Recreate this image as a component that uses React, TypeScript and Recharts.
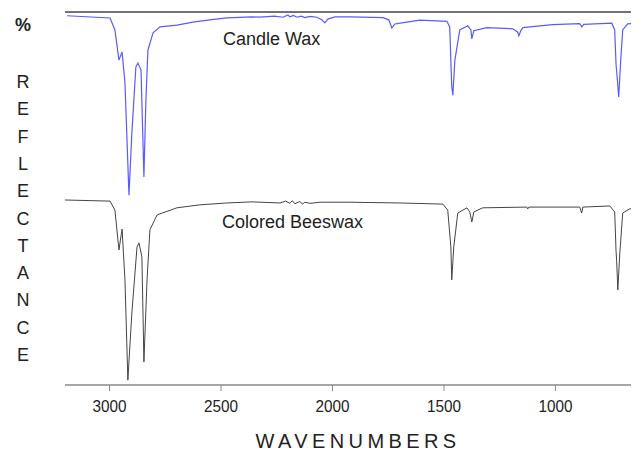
import { LineChart, Line, XAxis, YAxis, ReferenceLine } from "recharts";

// IR spectra: wavenumber (cm-1) and % reflectance (0-100 scale of the plot)
const candleWaxWavenumbers = [
  3191, 2998, 2976, 2958, 2944, 2931, 2913, 2900, 2882, 2873, 2859, 2846, 2837, 2828, 2805, 2774,
  2698, 2626, 2550, 2474, 2361, 2326, 2260, 2222, 2200, 2191, 2175, 2160, 2140, 2124, 2100, 2070,
  2048, 2034, 2021, 1989, 1922, 1774, 1747, 1734, 1720, 1689, 1608, 1487, 1474, 1468, 1465, 1460,
  1451, 1429, 1393, 1379, 1375, 1366, 1308, 1191, 1169, 1164, 1155, 1146, 1012, 891, 882, 873, 747,
  734, 728, 725, 716, 707, 698, 676, 635,
];
const candleWaxReflectance = [
  99.0, 98.4, 95.2, 87.1, 89.3, 81.0, 50.9, 67.6, 85.3, 86.3, 84.5, 55.8, 76.4, 89.8, 94.4, 96.0,
  96.5, 97.3, 97.9, 98.4, 98.7, 98.6, 98.9, 98.6, 99.2, 98.7, 99.1, 98.6, 98.9, 98.5, 98.8, 98.6,
  97.9, 97.1, 98.1, 98.7, 98.7, 98.5, 97.9, 95.7, 96.8, 97.1, 97.8, 97.5, 96.0, 85.0, 80.0, 77.7,
  87.1, 95.2, 96.3, 95.2, 92.8, 95.0, 95.8, 95.5, 94.6, 93.6, 95.0, 95.8, 96.6, 96.9, 96.0, 96.7, 97.0,
  95.2, 86.0, 84.0, 77.2, 87.1, 95.2, 96.8, 97.0,
];

const beeswaxWavenumbers = [
  3200, 2998, 2976, 2958, 2944, 2931, 2918, 2900, 2877, 2868, 2855, 2846, 2832, 2819, 2787, 2698,
  2595, 2474, 2361, 2236, 2210, 2191, 2180, 2169, 2146, 2135, 2124, 2100, 2057, 1922, 1698, 1505,
  1483, 1469, 1465, 1456, 1438, 1397, 1384, 1375, 1366, 1326, 1128, 1124, 1119, 891, 882, 877, 756,
  734, 728, 725, 720, 711, 698, 667, 631,
];
const beeswaxReflectance = [
  49.6, 49.3, 46.9, 36.2, 41.8, 28.2, 1.3, 19.3, 37.0, 38.1, 34.3, 6.2, 28.2, 41.6, 45.6, 47.5,
  48.3, 48.8, 49.1, 48.8, 49.3, 48.7, 49.4, 48.6, 49.2, 48.5, 49.0, 48.7, 49.0, 49.0, 48.8, 48.5,
  46.9, 37.0, 28.2, 37.0, 46.1, 47.5, 46.4, 43.7, 46.4, 47.5, 47.7, 47.2, 47.7, 47.7, 46.1, 47.7, 48.0,
  46.4, 36.0, 33.0, 25.5, 35.4, 46.1, 47.2, 47.5,
];

const xTicks = [3000, 2500, 2000, 1500, 1000];
const yLetters = ["R", "E", "F", "L", "E", "C", "T", "A", "N", "C", "E"];

const candleWax = candleWaxWavenumbers.map((wn, i) => ({ wn, r: candleWaxReflectance[i] }));
const beeswax = beeswaxWavenumbers.map((wn, i) => ({ wn, r: beeswaxReflectance[i] }));

const font = "'Liberation Sans', Arial, sans-serif";

function Tick({ x, y, payload }: any) {
  return (
    <g transform={`translate(${x},${y})`}>
      <text
        x={0}
        y={0}
        dy={19}
        textAnchor="middle"
        transform="scale(0.9,1)"
        fontSize={17}
        fontFamily={font}
        fill="#222"
      >
        {payload.value}
      </text>
    </g>
  );
}

export default function App() {
  return (
    <div style={{ position: "relative", width: 631, height: 445, fontFamily: font, color: "#222" }}>
      <LineChart width={631} height={445} margin={{ top: 4, right: 0, left: 57, bottom: 0 }}>
        <XAxis
          type="number"
          dataKey="wn"
          domain={[625, 3200]}
          reversed
          allowDataOverflow
          ticks={xTicks}
          height={68}
          tickSize={6}
          tick={<Tick />}
          axisLine={{ stroke: "#888", strokeWidth: 1.5 }}
          tickLine={{ stroke: "#888" }}
        />
        <YAxis
          type="number"
          domain={[0, 100]}
          width={0}
          tick={false}
          tickLine={false}
          axisLine={{ stroke: "#888", strokeWidth: 1.5 }}
        />
        <ReferenceLine y={100} stroke="#444" strokeWidth={1.5} />
        <Line
          data={candleWax}
          dataKey="r"
          type="linear"
          stroke="#5a5aff"
          strokeWidth={1.2}
          dot={false}
          isAnimationActive={false}
        />
        <Line
          data={beeswax}
          dataKey="r"
          type="linear"
          stroke="#444"
          strokeWidth={1}
          dot={false}
          isAnimationActive={false}
        />
      </LineChart>

      <div style={{ position: "absolute", left: 215, top: 21, fontSize: 18 }}>Candle Wax</div>
      <div style={{ position: "absolute", left: 214, top: 204, fontSize: 18 }}>Colored Beeswax</div>

      <div
        style={{
          position: "absolute",
          left: 0,
          top: 7,
          width: 30,
          textAlign: "center",
          fontSize: 18,
          fontWeight: "bold",
        }}
      >
        %
      </div>
      {yLetters.map((ch, i) => (
        <div
          key={i}
          style={{
            position: "absolute",
            left: 0,
            top: 64 + i * 27.3,
            width: 30,
            textAlign: "center",
            fontSize: 18,
          }}
        >
          {ch}
        </div>
      ))}

      <div
        style={{
          position: "absolute",
          left: 0,
          top: 422,
          width: 700,
          textAlign: "center",
          fontSize: 20,
          letterSpacing: 4.4,
        }}
      >
        WAVENUMBERS
      </div>
    </div>
  );
}
